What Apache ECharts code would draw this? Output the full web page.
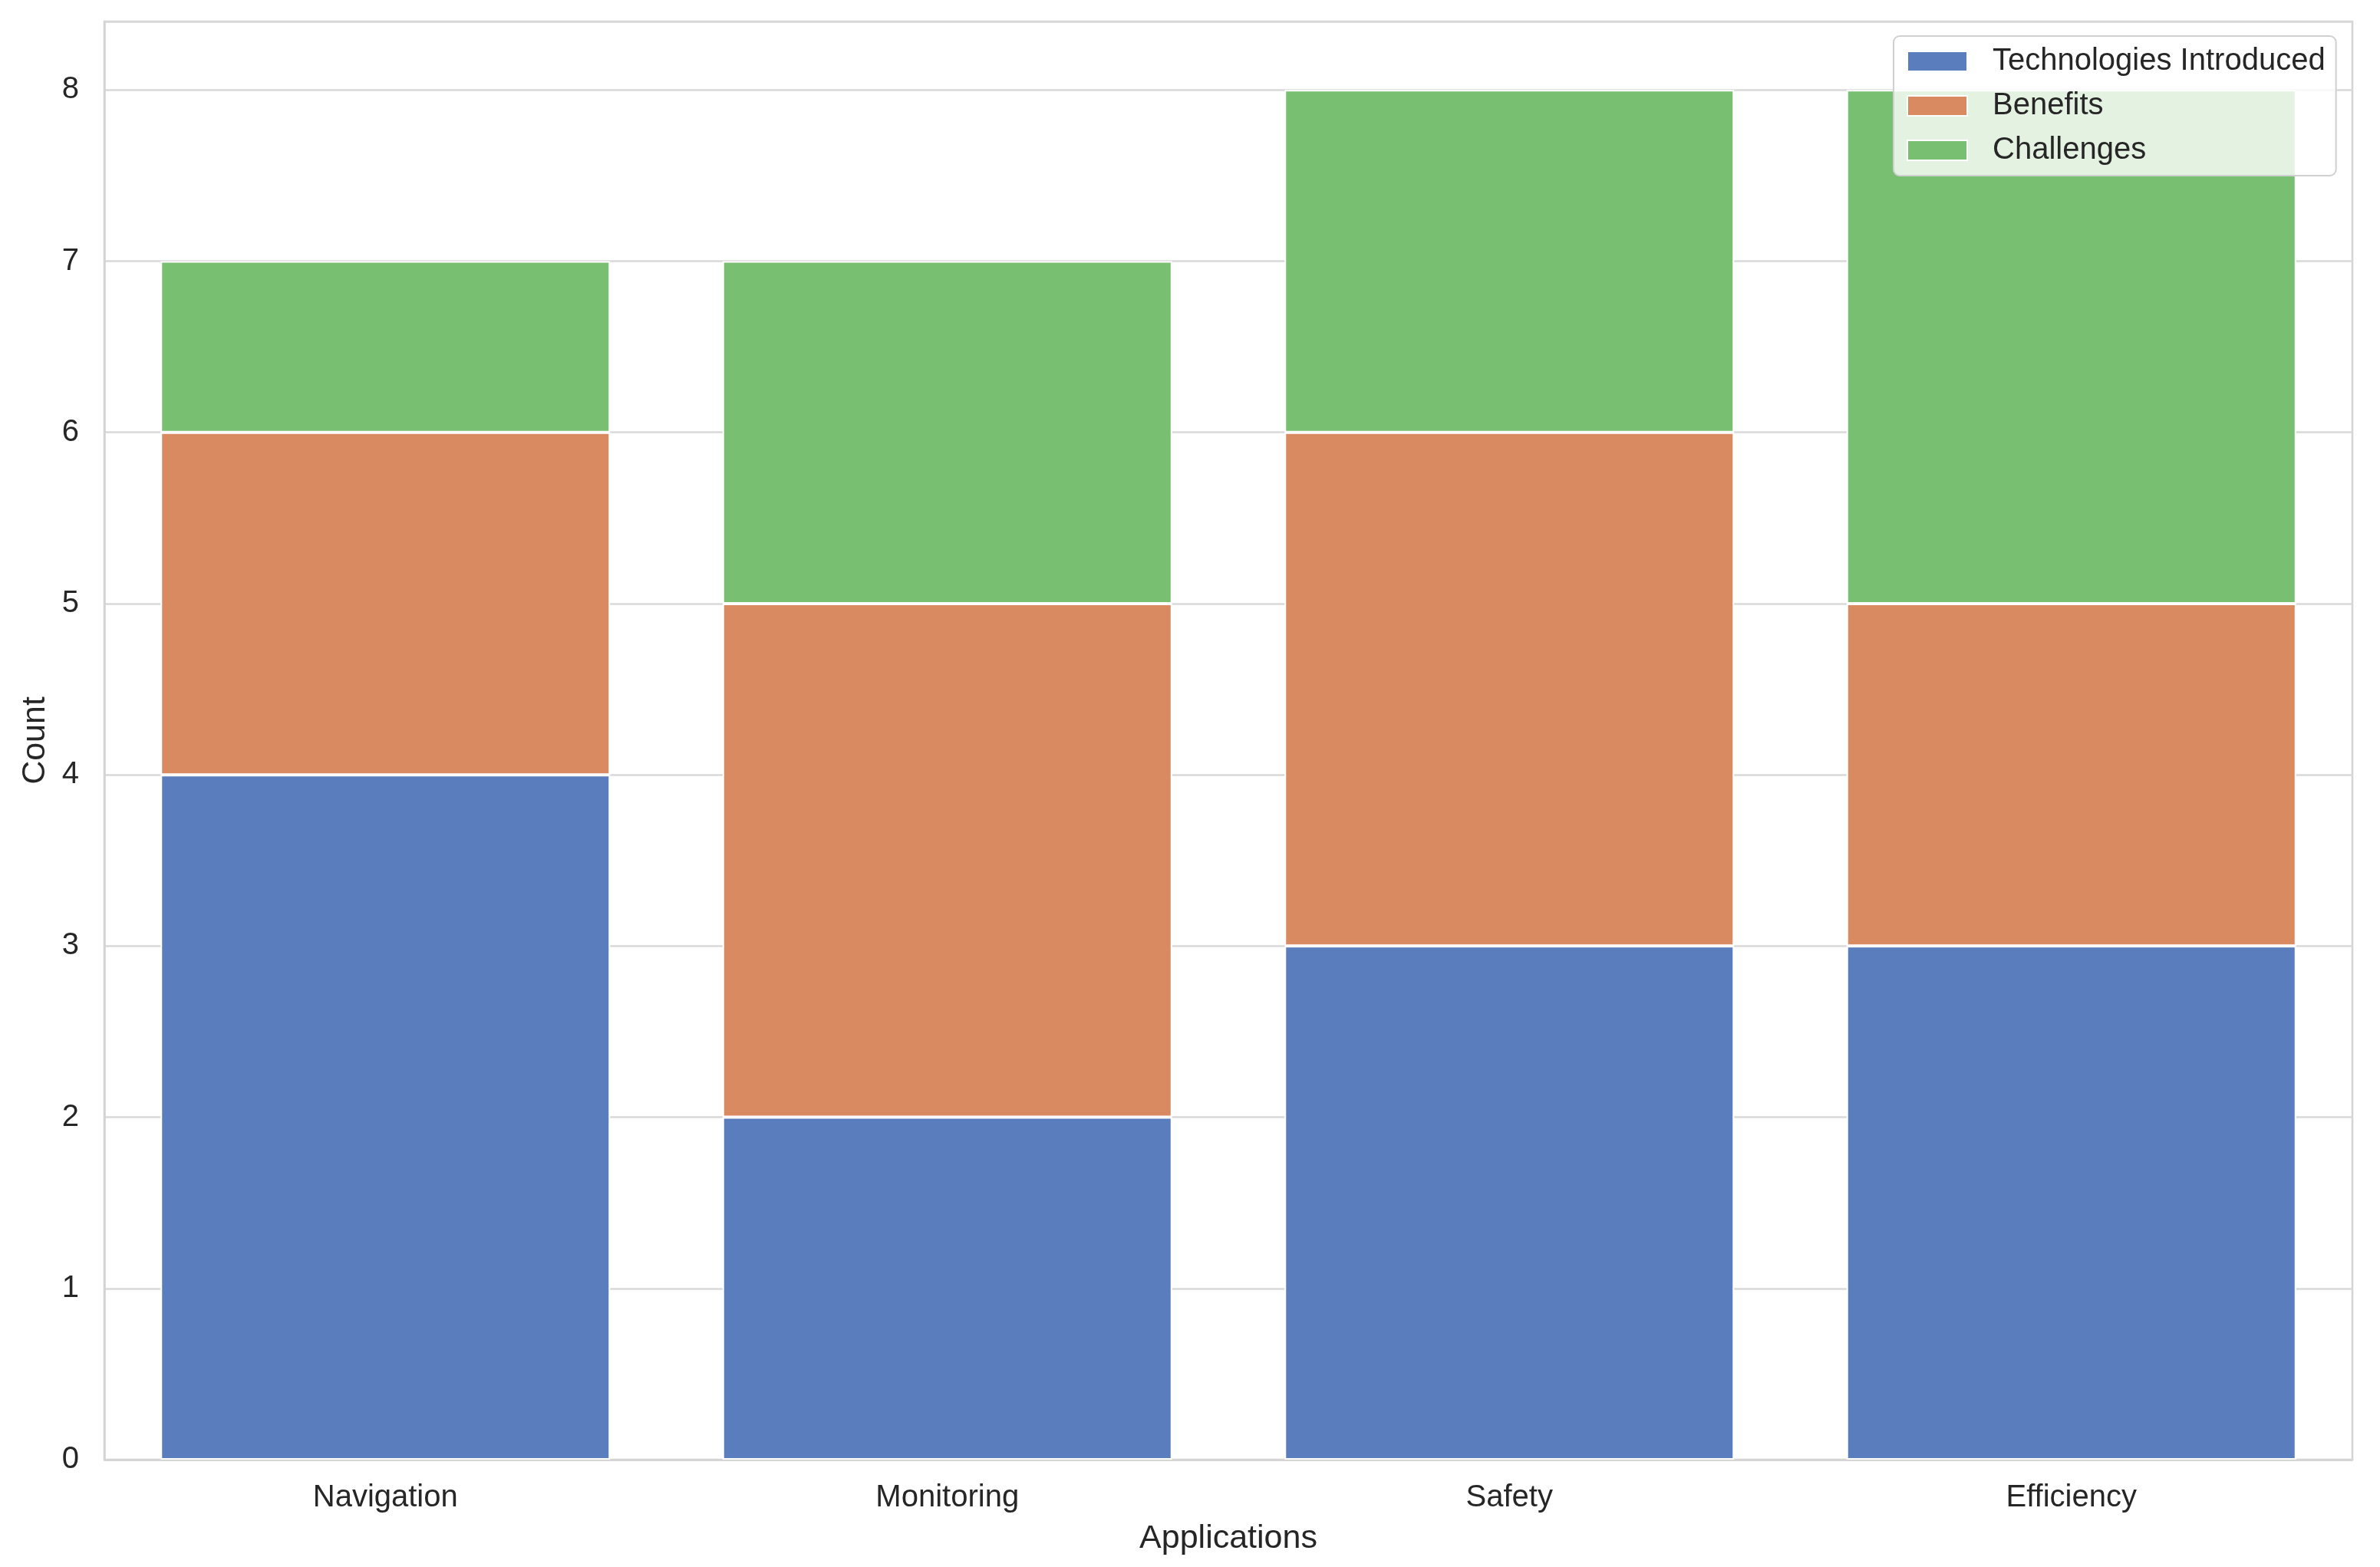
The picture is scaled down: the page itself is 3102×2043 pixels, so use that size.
<!DOCTYPE html>
<html>
<head>
<meta charset="utf-8">
<script src="https://cdn.jsdelivr.net/npm/echarts@6/dist/echarts.min.js"></script>
<style>
html,body{margin:0;padding:0;background:#fff;}
#chart{width:3102px;height:2043px;}
</style>
</head>
<body>
<div id="chart"></div>
<script>
const categories = ['Navigation', 'Monitoring', 'Safety', 'Efficiency'];
const technologiesIntroduced = [4, 2, 3, 3];
const benefits = [2, 3, 3, 2];
const challenges = [1, 2, 2, 3];
const seriesNames = ['Technologies Introduced', 'Benefits', 'Challenges'];
const colors = ['#5A7DBE', '#D98A60', '#78BF71'];

const FONT = 'Liberation Sans, Arial, sans-serif';
const chart = echarts.init(document.getElementById('chart'), null, {renderer: 'canvas'});

function mkSeries(name, data, color) {
  return {
    name: name,
    type: 'bar',
    stack: 'total',
    data: data,
    barWidth: '80%',
    itemStyle: {color: color, borderColor: '#ffffff', borderWidth: 2},
    emphasis: {disabled: true}
  };
}

chart.setOption({
  animation: false,
  backgroundColor: '#ffffff',
  textStyle: {fontFamily: FONT},
  grid: {
    left: 136, right: 36, top: 28, bottom: 140,
    show: true, borderColor: '#d4d4d4', borderWidth: 2.5, backgroundColor: 'transparent'
  },
  legend: {
    orient: 'vertical',
    left: 2468, top: 47,
    padding: [10, 14, 10, 17],
    itemWidth: 78, itemHeight: 26,
    itemGap: 12,
    backgroundColor: 'rgba(255,255,255,0.8)',
    borderColor: '#d0d0d0', borderWidth: 2, borderRadius: 8,
    icon: 'rect',
    textStyle: {fontFamily: FONT, fontSize: 40, color: '#262626', lineHeight: 46, padding: [0, 0, 0, 28]},
    data: seriesNames
  },
  xAxis: {
    type: 'category',
    data: categories,
    name: 'Applications',
    nameLocation: 'middle',
    nameGap: 82,
    nameTextStyle: {fontFamily: FONT, fontSize: 43, color: '#262626'},
    axisLine: {show: true, lineStyle: {color: '#d4d4d4', width: 2.5}},
    axisTick: {show: false},
    axisLabel: {fontFamily: FONT, fontSize: 40, color: '#262626', margin: 30},
    splitLine: {show: false}
  },
  yAxis: {
    type: 'value',
    min: 0, max: 8.4, interval: 1,
    name: 'Count',
    nameLocation: 'middle',
    nameGap: 68,
    nameTextStyle: {fontFamily: FONT, fontSize: 43, color: '#262626'},
    axisLine: {show: true, lineStyle: {color: '#d4d4d4', width: 2.5}},
    axisTick: {show: false},
    axisLabel: {fontFamily: FONT, fontSize: 40, color: '#262626', margin: 33, showMaxLabel: false,
      formatter: function (v) { return Number.isInteger(v) ? String(v) : ''; }},
    splitLine: {show: true, lineStyle: {color: '#d9d9d9', width: 2.5}}
  },
  series: [
    mkSeries(seriesNames[0], technologiesIntroduced, colors[0]),
    mkSeries(seriesNames[1], benefits, colors[1]),
    mkSeries(seriesNames[2], challenges, colors[2])
  ]
});
</script>
</body>
</html>
